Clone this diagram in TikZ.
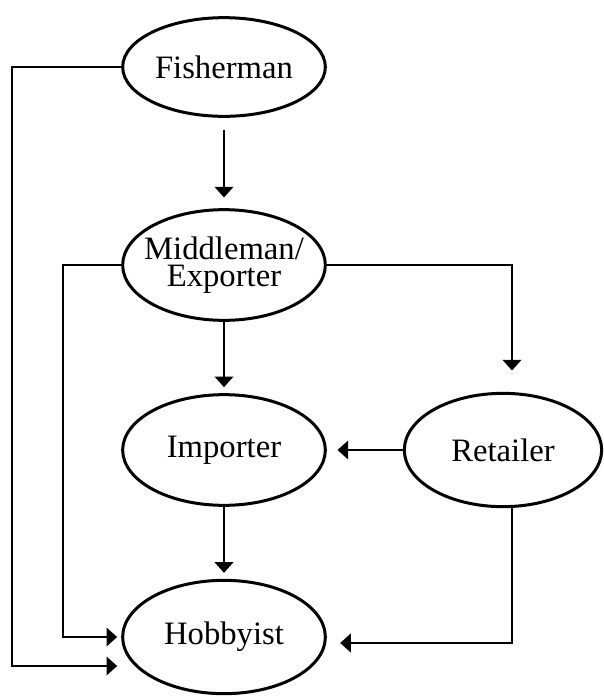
\documentclass[tikz,border=0pt]{standalone}
\usepackage{fontspec}
\setmainfont{Liberation Serif}
\usetikzlibrary{arrows.meta, shapes.geometric}

\tikzset{
    party/.style={draw, ellipse, line width=2.25pt, inner sep=0pt,
        minimum width=152pt, minimum height=83pt, align=center,
        font=\fontsize{24.5}{20.5}\selectfont},
    flow/.style={line width=1.3pt, -{Triangle[length=8pt, width=14pt]}},
}

\begin{document}
\begin{tikzpicture}[x=0.75pt, y=-0.75pt]
        \useasboundingbox (0, 0) rectangle (604, 697);

        \node[party, minimum height=74pt] (fisher) at (224, 67) {Fisherman};
        \node[party, inner xsep=-12pt] (middle) at (224, 265) {Middleman/\\Exporter};
        \node[party] (importer) at (224, 450) {Importer};
        \node[party, minimum width=148pt, minimum height=85pt] (retailer) at (503, 450) {Retailer};
        \node[party, minimum height=85pt] (hobby) at (224, 637) {Hobbyist};

        \draw[flow, shorten <=9pt, shorten >=8pt] (fisher) -- (middle);

        \draw[flow, shorten >=4.5pt] (middle) -- (importer);

        \draw[flow, shorten >=4.5pt] (importer) -- (hobby);

        \draw[flow, shorten >=8pt] (retailer) -- (importer);

        \draw[flow, shorten >=16pt] (middle.east) -| ([xshift=6.75pt]retailer.north);

        \draw[flow, shorten >=10pt] ([xshift=6.75pt]retailer.south) |- ([yshift=-4.5pt]hobby.east);

        % side routes down to the hobbyist
        \draw[flow, shorten >=3pt] (middle.west) -- ++(-58, 0) |- (hobby.west);

        \draw[flow, shorten >=3pt] (fisher.west) -- ++(-109, 0) |- ([yshift=-21.75pt]hobby.west);
        
    \end{tikzpicture}
\end{document}
